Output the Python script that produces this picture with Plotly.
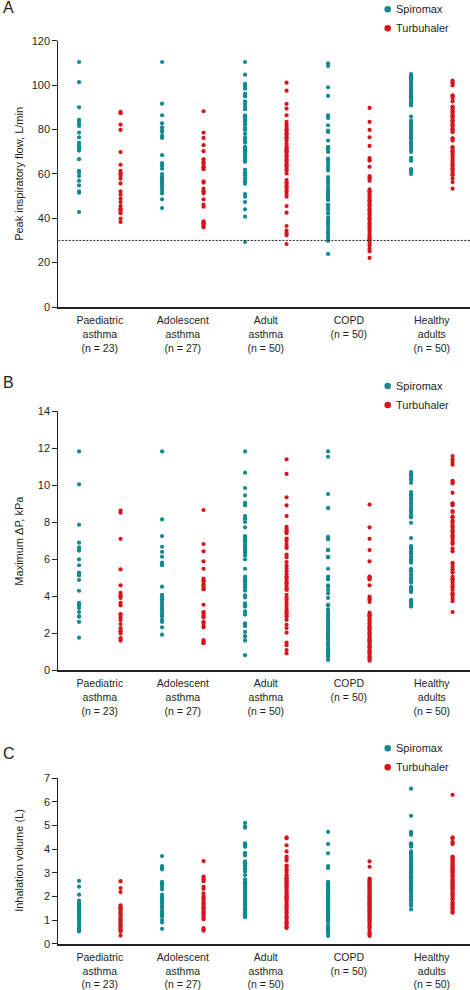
import plotly.graph_objects as go

# ---------------- data ----------------
CATEGORIES = [
    "Paediatric<br>asthma<br>(n = 23)",
    "Adolescent<br>asthma<br>(n = 27)",
    "Adult<br>asthma<br>(n = 50)",
    "COPD<br>(n = 50)",
    "Healthy<br>adults<br>(n = 50)",
]
DEVICES = ["Spiromax", "Turbuhaler"]

# Panel A: peak inspiratory flow, L/min
A_SPI_PAED = [110.4, 101.3, 90.0, 84.3, 84.0, 82.8, 81.6, 78.6, 76.5, 74.1, 72.9, 72.0, 71.4, 70.5, 66.6, 61.4, 60.5, 59.0, 56.9, 54.8, 52.1, 51.5, 42.8]
A_TUR_PAED = [87.9, 87.3, 82.2, 79.8, 69.8, 64.1, 61.4, 60.2, 60.0, 59.0, 57.8, 55.7, 52.1, 50.6, 48.8, 47.3, 45.5, 44.3, 44.0, 43.1, 42.2, 39.8, 38.3]
A_SPI_ADOL = [110.4, 91.6, 86.4, 82.8, 81.0, 79.8, 78.9, 77.1, 76.2, 68.4, 64.8, 64.0, 63.6, 62.3, 59.9, 58.7, 58.0, 57.8, 56.9, 56.0, 55.0, 54.8, 53.6, 52.4, 51.2, 48.5, 44.6]
A_TUR_ADOL = [88.2, 78.6, 76.2, 72.9, 70.2, 66.6, 65.4, 65.0, 64.2, 63.0, 63.0, 62.1, 56.6, 56.0, 53.3, 52.1, 52.0, 51.2, 48.5, 46.1, 45.2, 38.6, 38.0, 37.7, 37.0, 36.8, 35.9]
A_SPI_ADULT = [110.4, 104.7, 100.6, 100.0, 99.6, 98.4, 96.0, 95.1, 95.0, 92.7, 91.5, 90.2, 89.1, 86.4, 86.0, 85.5, 84.6, 84.0, 83.4, 82.2, 80.7, 80.0, 79.8, 78.0, 76.2, 75.0, 74.1, 72.0, 72.0, 71.1, 70.2, 70.0, 69.0, 67.8, 66.9, 66.0, 65.4, 61.8, 60.6, 60.0, 59.4, 57.9, 56.7, 55.5, 50.9, 49.7, 47.3, 44.0, 40.7, 29.3]
A_TUR_ADULT = [101.1, 97.5, 91.5, 89.4, 86.4, 83.4, 82.2, 81.3, 80.0, 79.8, 78.6, 78.0, 77.7, 76.5, 76.0, 75.0, 73.5, 72.0, 72.0, 71.1, 70.2, 70.0, 69.0, 68.0, 67.8, 66.6, 66.0, 65.4, 64.2, 64.0, 63.0, 62.0, 61.4, 60.2, 57.2, 56.0, 56.0, 54.8, 54.0, 53.3, 52.1, 50.9, 49.7, 45.5, 42.5, 36.5, 34.4, 33.2, 32.3, 28.4]
A_SPI_COPD = [109.8, 108.6, 99.0, 95.1, 86.4, 85.2, 81.9, 79.5, 78.9, 75.0, 72.0, 72.0, 71.1, 69.9, 66.9, 66.0, 65.7, 64.2, 62.7, 61.5, 58.5, 57.3, 56.1, 54.6, 53.3, 52.1, 52.0, 51.2, 50.0, 50.0, 48.8, 48.2, 46.0, 45.8, 44.6, 43.7, 42.2, 40.4, 39.2, 38.0, 38.0, 36.8, 35.3, 34.0, 33.8, 32.6, 31.4, 30.0, 29.9, 23.9]
A_TUR_COPD = [89.7, 83.4, 79.8, 76.5, 72.6, 67.1, 66.2, 66.0, 63.2, 59.0, 58.1, 58.0, 56.9, 53.0, 52.1, 52.0, 51.2, 50.0, 50.0, 48.8, 48.0, 47.9, 47.0, 46.0, 45.8, 44.6, 44.0, 43.4, 42.2, 42.0, 41.0, 40.0, 39.8, 38.9, 37.7, 36.8, 36.0, 35.6, 34.7, 33.8, 32.6, 32.0, 31.4, 30.5, 30.0, 29.0, 27.8, 26.3, 25.1, 22.1]
A_SPI_HEALTHY = [105.0, 104.0, 104.0, 103.0, 102.9, 102.0, 101.0, 100.0, 99.3, 98.1, 98.0, 97.0, 96.9, 96.0, 95.7, 95.0, 94.5, 94.0, 93.3, 92.1, 92.0, 91.0, 90.9, 85.8, 84.0, 83.1, 82.0, 81.9, 80.7, 80.0, 79.5, 79.0, 78.3, 78.0, 77.1, 77.0, 76.0, 75.9, 74.4, 74.0, 73.2, 72.0, 70.8, 69.9, 67.2, 66.0, 66.0, 62.1, 61.2, 59.9]
A_TUR_HEALTHY = [102.0, 101.1, 101.0, 99.9, 95.4, 95.0, 94.2, 92.7, 90.3, 90.0, 89.1, 88.0, 87.9, 87.0, 86.1, 86.0, 85.2, 84.0, 84.0, 83.1, 82.2, 82.0, 81.3, 80.1, 80.0, 79.0, 78.9, 76.0, 75.9, 75.0, 72.0, 71.7, 70.5, 70.0, 69.3, 68.1, 68.0, 66.9, 65.7, 64.5, 64.0, 63.3, 62.1, 62.0, 60.9, 60.0, 59.4, 57.9, 56.3, 53.3]
A_THRESHOLD = 30

# Panel B: maximum pressure drop, kPa
B_SPI_PAED = [11.83, 10.05, 7.86, 6.89, 6.64, 6.5, 6.46, 5.99, 5.67, 5.27, 5.2, 5.12, 4.87, 4.29, 3.64, 3.53, 3.5, 3.35, 3.14, 2.9, 2.89, 2.6, 1.75]
B_TUR_PAED = [8.62, 8.51, 7.1, 5.45, 4.58, 4.18, 4.04, 4.0, 3.9, 3.64, 3.5, 3.03, 3.0, 2.85, 2.71, 2.49, 2.27, 2.13, 2.1, 1.98, 1.73, 1.7, 1.59]
B_SPI_ADOL = [11.83, 8.15, 7.25, 6.67, 6.39, 6.13, 5.81, 5.7, 5.67, 4.51, 4.07, 3.97, 3.83, 3.8, 3.68, 3.57, 3.43, 3.3, 3.28, 3.14, 3.03, 3.0, 2.89, 2.71, 2.6, 2.31, 1.91]
B_TUR_ADOL = [8.66, 6.82, 6.42, 5.88, 5.48, 4.94, 4.85, 4.8, 4.65, 4.6, 4.51, 4.4, 4.37, 3.53, 3.14, 3.1, 2.99, 2.9, 2.85, 2.6, 2.56, 2.4, 2.31, 1.62, 1.55, 1.48, 1.45]
B_SPI_ADULT = [11.83, 10.68, 9.85, 9.45, 9.05, 9.0, 8.91, 8.33, 8.2, 8.18, 8.01, 7.72, 7.25, 7.2, 7.1, 7.0, 6.96, 6.78, 6.64, 6.5, 6.49, 6.4, 6.35, 6.2, 5.99, 5.48, 5.05, 4.9, 4.8, 4.76, 4.61, 4.5, 4.47, 4.3, 4.04, 3.93, 3.61, 3.5, 3.43, 3.18, 3.03, 3.0, 2.53, 2.4, 2.38, 2.06, 1.84, 1.8, 1.59, 0.8]
B_TUR_ADULT = [11.4, 10.61, 9.35, 8.91, 8.33, 7.75, 7.65, 7.54, 7.5, 7.4, 7.11, 7.0, 6.82, 6.67, 6.6, 6.24, 6.1, 5.84, 5.63, 5.5, 5.34, 5.19, 5.05, 5.0, 4.9, 4.76, 4.7, 4.61, 4.47, 4.4, 4.33, 4.07, 3.93, 3.8, 3.64, 3.5, 3.35, 3.21, 3.1, 3.07, 2.92, 2.9, 2.71, 2.45, 2.27, 2.02, 1.48, 1.34, 1.08, 0.9]
B_SPI_COPD = [11.83, 11.54, 9.52, 8.77, 7.21, 7.1, 7.07, 6.5, 6.49, 6.13, 6.1, 5.48, 5.05, 5.0, 4.9, 4.58, 4.5, 4.33, 4.15, 3.9, 3.53, 3.5, 3.28, 3.14, 3.0, 2.96, 2.81, 2.7, 2.67, 2.53, 2.5, 2.38, 2.24, 2.2, 2.09, 2.0, 1.95, 1.8, 1.7, 1.62, 1.48, 1.4, 1.34, 1.19, 1.1, 1.01, 0.9, 0.8, 0.7, 0.54]
B_TUR_COPD = [8.95, 7.72, 7.1, 6.49, 5.88, 5.05, 5.0, 4.94, 4.9, 4.58, 3.97, 3.86, 3.8, 3.68, 3.1, 3.0, 2.96, 2.9, 2.81, 2.7, 2.67, 2.53, 2.5, 2.38, 2.3, 2.24, 2.2, 2.09, 2.0, 1.95, 1.9, 1.8, 1.7, 1.66, 1.6, 1.52, 1.5, 1.37, 1.3, 1.23, 1.2, 1.08, 1.0, 0.94, 0.9, 0.79, 0.7, 0.65, 0.6, 0.5]
B_SPI_HEALTHY = [10.71, 10.6, 10.53, 10.39, 10.3, 10.13, 9.63, 9.5, 9.49, 9.34, 9.2, 9.05, 9.0, 8.84, 8.69, 8.6, 8.55, 8.41, 8.3, 8.26, 7.97, 7.14, 6.71, 6.6, 6.56, 6.42, 6.3, 6.28, 6.13, 6.0, 5.95, 5.9, 5.81, 5.48, 5.4, 5.34, 5.16, 5.0, 4.91, 4.8, 4.73, 4.5, 4.4, 4.3, 4.22, 3.8, 3.72, 3.6, 3.53, 3.43]
B_TUR_HEALTHY = [11.58, 11.4, 11.26, 11.11, 10.24, 10.2, 10.1, 9.59, 9.02, 9.0, 8.91, 8.6, 8.55, 8.3, 8.26, 8.08, 8.0, 7.83, 7.72, 7.58, 7.5, 7.43, 7.29, 7.2, 7.14, 7.0, 6.9, 6.82, 6.57, 6.42, 5.8, 5.74, 5.59, 5.45, 5.3, 5.27, 5.05, 4.91, 4.9, 4.76, 4.62, 4.5, 4.47, 4.33, 4.15, 4.1, 4.0, 3.86, 3.72, 3.14]

# Panel C: inhalation volume, L
C_SPI_PAED = [2.65, 2.41, 2.07, 1.82, 1.73, 1.7, 1.65, 1.56, 1.5, 1.48, 1.39, 1.31, 1.23, 1.14, 1.1, 1.06, 0.97, 0.89, 0.8, 0.72, 0.63, 0.6, 0.52]
C_TUR_PAED = [2.64, 2.35, 2.18, 1.62, 1.54, 1.5, 1.45, 1.37, 1.3, 1.28, 1.2, 1.11, 1.03, 1.0, 0.95, 0.86, 0.8, 0.78, 0.69, 0.61, 0.6, 0.52, 0.35]
C_SPI_ADOL = [3.7, 3.28, 3.2, 3.14, 2.61, 2.52, 2.5, 2.41, 2.3, 2.07, 2.0, 1.93, 1.9, 1.82, 1.75, 1.71, 1.6, 1.59, 1.48, 1.37, 1.3, 1.25, 1.2, 1.14, 1.0, 0.9, 0.63]
C_TUR_ADOL = [3.49, 2.83, 2.75, 2.7, 2.64, 2.4, 2.32, 2.13, 2.01, 1.95, 1.9, 1.82, 1.73, 1.7, 1.62, 1.54, 1.5, 1.45, 1.37, 1.3, 1.28, 1.2, 1.11, 1.03, 0.66, 0.6, 0.55]
C_SPI_ADULT = [5.11, 4.97, 4.9, 4.24, 4.2, 4.16, 4.1, 3.84, 3.8, 3.73, 3.48, 3.4, 3.39, 3.3, 3.28, 3.17, 3.05, 2.9, 2.72, 2.6, 2.6, 2.52, 2.5, 2.44, 2.4, 2.35, 2.27, 2.2, 2.18, 2.1, 2.1, 2.02, 1.93, 1.9, 1.85, 1.8, 1.76, 1.7, 1.68, 1.6, 1.51, 1.5, 1.43, 1.4, 1.34, 1.3, 1.26, 1.2, 1.18, 1.12]
C_TUR_ADULT = [4.49, 4.45, 4.16, 3.9, 3.68, 3.6, 3.51, 3.3, 3.28, 3.17, 3.1, 3.03, 2.9, 2.89, 2.8, 2.74, 2.7, 2.64, 2.6, 2.52, 2.5, 2.41, 2.4, 2.3, 2.2, 2.18, 2.1, 2.07, 2.0, 1.96, 1.9, 1.85, 1.8, 1.73, 1.62, 1.6, 1.51, 1.5, 1.39, 1.3, 1.28, 1.17, 1.1, 1.06, 0.94, 0.9, 0.83, 0.75, 0.7, 0.66]
C_SPI_COPD = [4.72, 4.21, 3.82, 3.28, 3.2, 2.61, 2.55, 2.5, 2.49, 2.4, 2.38, 2.3, 2.27, 2.2, 2.15, 2.1, 2.04, 2.0, 1.95, 1.93, 1.9, 1.85, 1.82, 1.8, 1.75, 1.7, 1.65, 1.6, 1.59, 1.55, 1.5, 1.48, 1.45, 1.4, 1.37, 1.3, 1.25, 1.2, 1.14, 1.1, 1.03, 1.0, 0.95, 0.8, 0.69, 0.6, 0.58, 0.5, 0.46, 0.33]
C_TUR_COPD = [3.48, 3.25, 2.75, 2.7, 2.64, 2.6, 2.52, 2.5, 2.45, 2.41, 2.35, 2.3, 2.25, 2.2, 2.18, 2.1, 2.07, 2.0, 1.96, 1.9, 1.85, 1.8, 1.75, 1.73, 1.7, 1.65, 1.62, 1.55, 1.51, 1.45, 1.4, 1.39, 1.35, 1.3, 1.28, 1.2, 1.17, 1.1, 1.06, 1.0, 0.95, 0.9, 0.8, 0.75, 0.7, 0.63, 0.5, 0.46, 0.4, 0.33]
C_SPI_HEALTHY = [6.55, 5.4, 4.72, 4.65, 4.6, 4.24, 4.2, 4.13, 4.1, 3.9, 3.84, 3.8, 3.73, 3.7, 3.62, 3.6, 3.51, 3.45, 3.39, 3.35, 3.28, 3.2, 3.17, 3.1, 3.03, 3.0, 2.95, 2.91, 2.85, 2.8, 2.75, 2.69, 2.65, 2.6, 2.57, 2.5, 2.46, 2.4, 2.35, 2.3, 2.24, 2.2, 2.1, 2.0, 1.98, 1.9, 1.82, 1.7, 1.6, 1.45]
C_TUR_HEALTHY = [6.29, 4.49, 4.45, 4.3, 4.25, 4.21, 3.68, 3.65, 3.59, 3.55, 3.51, 3.45, 3.42, 3.34, 3.3, 3.23, 3.2, 3.12, 3.1, 3.05, 3.0, 2.95, 2.89, 2.85, 2.78, 2.7, 2.67, 2.6, 2.55, 2.5, 2.44, 2.4, 2.33, 2.3, 2.21, 2.15, 2.1, 2.05, 1.99, 1.9, 1.88, 1.76, 1.7, 1.65, 1.6, 1.54, 1.5, 1.42, 1.35, 1.31]

# ---------------- layout helpers ----------------
W, H = 470, 990
FONT = "Liberation Sans, Arial, Helvetica, sans-serif"
TXT = "#231f20"
COLORS = {"Spiromax": "#118a8f", "Turbuhaler": "#d7141c"}
OFFSETS = {"Spiromax": -0.25, "Turbuhaler": 0.25}


def fy(px):
    return 1 - px / H


def fx(px):
    return px / W


panels = [
    dict(letter="A", suffix="",
         series={"Spiromax": [A_SPI_PAED, A_SPI_ADOL, A_SPI_ADULT, A_SPI_COPD, A_SPI_HEALTHY],
                 "Turbuhaler": [A_TUR_PAED, A_TUR_ADOL, A_TUR_ADULT, A_TUR_COPD, A_TUR_HEALTHY]},
         ytitle="Peak inspiratory flow, L/min", yrange=[0, 120], dtick=20,
         top=40.7, bottom=307, letter_y=7, leg_y=9.3),
    dict(letter="B", suffix="2",
         series={"Spiromax": [B_SPI_PAED, B_SPI_ADOL, B_SPI_ADULT, B_SPI_COPD, B_SPI_HEALTHY],
                 "Turbuhaler": [B_TUR_PAED, B_TUR_ADOL, B_TUR_ADULT, B_TUR_COPD, B_TUR_HEALTHY]},
         ytitle="Maximum \u0394P, kPa", yrange=[0, 14], dtick=2,
         top=411.3, bottom=670, letter_y=383, leg_y=386),
    dict(letter="C", suffix="3",
         series={"Spiromax": [C_SPI_PAED, C_SPI_ADOL, C_SPI_ADULT, C_SPI_COPD, C_SPI_HEALTHY],
                 "Turbuhaler": [C_TUR_PAED, C_TUR_ADOL, C_TUR_ADULT, C_TUR_COPD, C_TUR_HEALTHY]},
         ytitle="Inhalation volume (L)", yrange=[0, 7], dtick=1,
         top=778, bottom=943.7, letter_y=753, leg_y=748.3),
]

X_LEFT_PX = 58.3
XRANGE = [-0.5, 4.46]

fig = go.Figure()
annotations = []
shapes = []
layout_axes = {}

for p in panels:
    s = p["suffix"]
    xref, yref = "x" + s, "y" + s
    for dev in DEVICES:
        xs, ys = [], []
        for k, vals in enumerate(p["series"][dev]):
            xs += [k + OFFSETS[dev]] * len(vals)
            ys += vals
        fig.add_trace(go.Scatter(
            x=xs, y=ys, mode="markers", name=dev, showlegend=False,
            xaxis=xref, yaxis=yref,
            marker=dict(size=4.2, color=COLORS[dev], line=dict(width=0)),
        ))
    layout_axes["xaxis" + s] = dict(
        domain=[fx(X_LEFT_PX), 1], range=XRANGE, anchor=yref,
        showline=True, linecolor="#222", linewidth=1.6, showgrid=False, zeroline=False,
        tickmode="array", tickvals=list(range(len(CATEGORIES))), ticktext=CATEGORIES,
        ticks="", tickfont=dict(size=10.5, color=TXT, family=FONT),
        ticklabelstandoff=3, fixedrange=True, automargin=False,
    )
    layout_axes["yaxis" + s] = dict(
        domain=[fy(p["bottom"]), fy(p["top"])], range=p["yrange"], anchor=xref,
        showline=True, linecolor="#222", linewidth=1, showgrid=False, zeroline=False,
        tick0=0, dtick=p["dtick"], ticks="outside", ticklen=5, tickwidth=1, tickcolor="#222",
        tickfont=dict(size=11, color=TXT, family=FONT), fixedrange=True, automargin=False,
    )
    # panel letter
    annotations.append(dict(text=p["letter"], x=fx(1), y=fy(p["letter_y"]), xref="paper", yref="paper",
                            xanchor="left", yanchor="middle", showarrow=False,
                            font=dict(size=16, color=TXT, family=FONT)))
    # y title
    annotations.append(dict(text=p["ytitle"], x=fx(19), y=fy((p["top"] + p["bottom"]) / 2),
                            xref="paper", yref="paper", xanchor="center", yanchor="middle",
                            textangle=-90, showarrow=False,
                            font=dict(size=11, color=TXT, family=FONT)))
    # legend (marker + label)
    for i, dev in enumerate(DEVICES):
        ly = fy(p["leg_y"] + 19 * i)
        shapes.append(dict(type="circle", xref="paper", yref="paper",
                           xsizemode="pixel", ysizemode="pixel",
                           xanchor=fx(387.7), yanchor=ly, x0=-3.3, x1=3.3, y0=-3.3, y1=3.3,
                           fillcolor=COLORS[dev], line=dict(width=0)))
        annotations.append(dict(text=dev, x=fx(394), y=ly, xref="paper", yref="paper",
                                xanchor="left", yanchor="middle", showarrow=False,
                                font=dict(size=11, color=TXT, family=FONT)))

# threshold line in panel A
shapes.append(dict(type="line", xref="x", yref="y", x0=XRANGE[0], x1=XRANGE[1],
                   y0=A_THRESHOLD, y1=A_THRESHOLD, layer="above",
                   line=dict(color="#222", width=1, dash="2px,1.5px")))

fig.update_layout(
    width=W, height=H, margin=dict(l=0, r=0, t=0, b=0, pad=0), autosize=False,
    paper_bgcolor="white", plot_bgcolor="white",
    showlegend=False, annotations=annotations, shapes=shapes,
    font=dict(family=FONT, size=11, color=TXT),
    **layout_axes,
)

fig.write_html(
    "out.html",
    config={"displayModeBar": False},
    post_script="document.body.style.margin='0';document.body.style.padding='0';"
                "document.documentElement.style.overflow='hidden';",
)
